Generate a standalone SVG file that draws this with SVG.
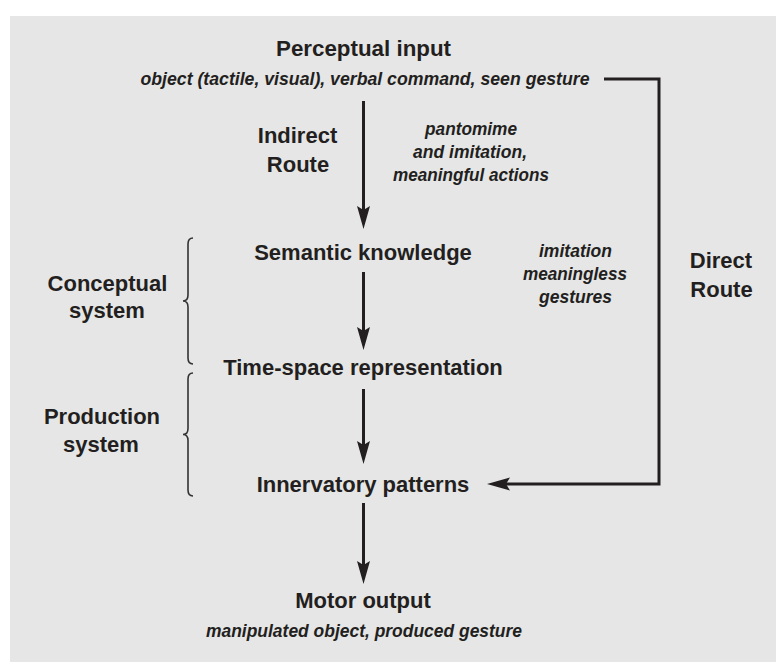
<svg xmlns="http://www.w3.org/2000/svg" width="776" height="662" viewBox="0 0 776 662">
<defs>
<style>
.b{font-family:"Liberation Sans",Arial,sans-serif;font-weight:bold;font-size:22px;fill:#231f20;text-anchor:middle}
.i{font-family:"Liberation Sans",Arial,sans-serif;font-weight:bold;font-style:italic;font-size:17.5px;fill:#231f20;text-anchor:middle}
.ln{fill:none;stroke:#231f20;stroke-width:3}
.br{fill:none;stroke:#333;stroke-width:1.6}
</style>
<marker id="ah" markerUnits="userSpaceOnUse" markerWidth="24" markerHeight="14" viewBox="0 0 24 14" refX="4" refY="6.5" orient="auto">
<path d="M0,0 L23,6.5 L0,13 L4,6.5 Z" fill="#231f20"/>
</marker>
</defs>
<rect x="10" y="16" width="766" height="646" fill="#e6e6e6"/>

<g id="perceptual-input">
<text class="b" x="363.5" y="56" textLength="175" lengthAdjust="spacingAndGlyphs">Perceptual input</text>
<text class="i" x="365" y="85" textLength="449" lengthAdjust="spacingAndGlyphs">object (tactile, visual), verbal command, seen gesture</text>
</g>
<g id="indirect-route">
<text class="b" x="297.5" y="143">Indirect</text>
<text class="b" x="298" y="172">Route</text>
</g>
<g id="indirect-label">
<text class="i" x="471" y="135" textLength="92" lengthAdjust="spacingAndGlyphs">pantomime</text>
<text class="i" x="470" y="158" textLength="114" lengthAdjust="spacingAndGlyphs">and imitation,</text>
<text class="i" x="471" y="181" textLength="156" lengthAdjust="spacingAndGlyphs">meaningful actions</text>
</g>
<g id="semantic-knowledge">
<text class="b" x="363" y="260">Semantic knowledge</text>
</g>
<g id="direct-label">
<text class="i" x="575.5" y="257" textLength="73" lengthAdjust="spacingAndGlyphs">imitation</text>
<text class="i" x="575" y="280" textLength="104" lengthAdjust="spacingAndGlyphs">meaningless</text>
<text class="i" x="575.5" y="303" textLength="73" lengthAdjust="spacingAndGlyphs">gestures</text>
</g>
<g id="direct-route">
<text class="b" x="721" y="268">Direct</text>
<text class="b" x="721.5" y="297">Route</text>
</g>
<g id="conceptual-system">
<path class="br" d="M193,238 C189,238 188,240 188,244 V295 C188,299 186,301 183,301 C186,301 188,303 188,307 V358 C188,362 189,364 193,364"/>
<text class="b" x="107.5" y="291">Conceptual</text>
<text class="b" x="107" y="318">system</text>
</g>
<g id="time-space">
<text class="b" x="363" y="375">Time-space representation</text>
</g>
<g id="production-system">
<path class="br" d="M193,373 C189,373 188,375 188,379 V428.5 C188,432.5 186,434.5 183,434.5 C186,434.5 188,436.5 188,440.5 V490 C188,494 189,496 193,496"/>
<text class="b" x="102" y="424">Production</text>
<text class="b" x="101" y="452">system</text>
</g>
<g id="innervatory-patterns">
<text class="b" x="363" y="492">Innervatory patterns</text>
</g>
<g id="motor-output">
<text class="b" x="363" y="608">Motor output</text>
<text class="i" x="364" y="637" textLength="316" lengthAdjust="spacingAndGlyphs">manipulated object, produced gesture</text>
</g>

<g id="connectors">
<path class="ln" d="M363.5,101 V210" marker-end="url(#ah)"/>
<path class="ln" d="M363.5,272 V331" marker-end="url(#ah)"/>
<path class="ln" d="M363.5,389 V445" marker-end="url(#ah)"/>
<path class="ln" d="M363.5,503 V565" marker-end="url(#ah)"/>
<path class="ln" d="M604,79 H659 V484 H506" marker-end="url(#ah)"/>
</g>
</svg>
